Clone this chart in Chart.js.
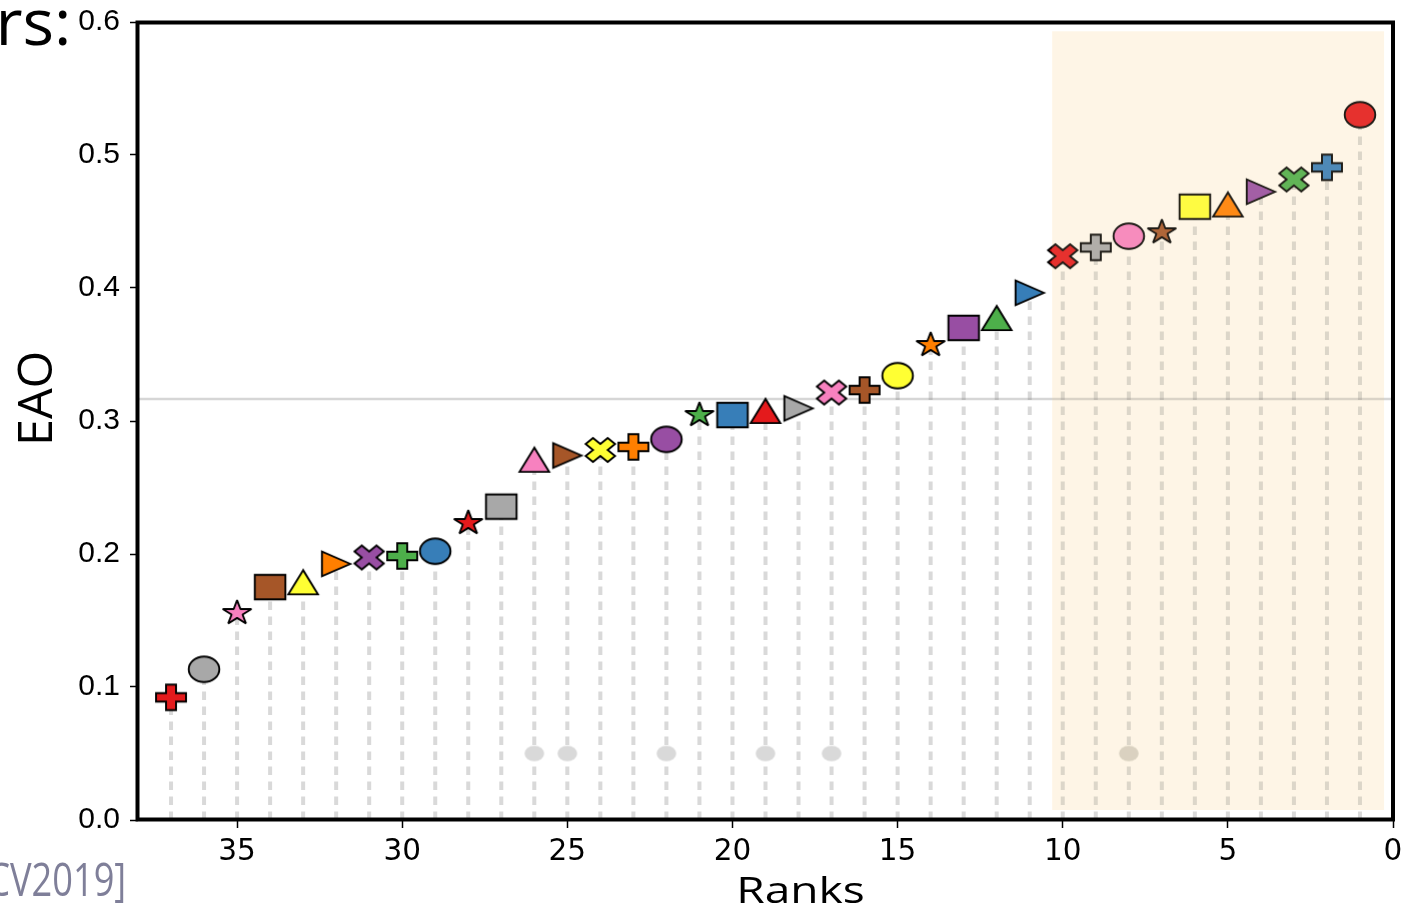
<!DOCTYPE html>
<html><head><meta charset="utf-8">
<script src="https://cdn.jsdelivr.net/npm/chart.js@4.4.1/dist/chart.umd.min.js"></script>
<style>html,body{margin:0;padding:0;background:#fff;overflow:hidden}#wrap{position:relative;width:1403px;height:906px}</style>
</head><body><div id="wrap"><canvas id="c"></canvas></div>
<script>
// ---- data ----
const ranks = [37,36,35,34,33,32,31,30,29,28,27,26,25,24,23,22,21,20,19,18,17,16,15,14,13,12,11,10,9,8,7,6,5,4,3,2,1];
const eaoValues = [0.0922,0.1133,0.1556,0.1751,0.1788,0.1926,0.1974,0.1985,0.2021,0.2233,0.2356,0.2709,0.2741,0.2782,0.2805,0.2862,0.3045,0.3045,0.3076,0.3095,0.3214,0.3233,0.3341,0.3571,0.3700,0.3774,0.3964,0.4239,0.4305,0.4390,0.4419,0.4611,0.4628,0.4724,0.4816,0.4907,0.5303];
const thresholdEAO = 0.3165;
const dotRanks = [26,25,22,19,17,8];
const dotValues = [0.05,0.05,0.05,0.05,0.05,0.05];
const highlightRanks = [10.32, 0.27];
const highlightEAO = [0.0075, 0.593];
const xTickValues = [0,5,10,15,20,25,30,35];
const yTickValues = [0,0.1,0.2,0.3,0.4,0.5,0.6];
const xTitle = 'Ranks';
const yTitle = 'EAO';

// ---- styles ----
const RED='#e41a1c',GRAY='#a8a8a8',PINK='#f781bf',BROWN='#a65628',YEL='#ffff33',ORG='#ff7f00',PUR='#984ea3',GRN='#4daf4a',BLU='#377eb8';
const markerColors = [RED,GRAY,PINK,BROWN,YEL,ORG,PUR,GRN,BLU, RED,GRAY,PINK,BROWN,YEL,ORG,PUR,GRN,BLU, RED,GRAY,PINK,BROWN,YEL,ORG,PUR,GRN,BLU, RED,GRAY,PINK,BROWN,YEL,ORG,PUR,GRN,BLU, RED];
const markerShapes = ['P','o','*','s','^','>','X', 'P','o','*','s','^','>','X', 'P','o','*','s','^','>','X', 'P','o','*','s','^','>','X', 'P','o','*','s','^','>','X', 'P','o'];
const dotColors = ['#d9d9d9','#d9d9d9','#d9d9d9','#d9d9d9','#d9d9d9','#d6d0c2'];

const shapeSize = {o:[15.3,12.8], s:[15.3,12.3], '^':[14.8,12.1], '>':[14.2,12.3], X:[14.7,12.1], P:[15.0,12.8], '*':[15.1,12.9]};

function tracePath(ctx, shape, rx, ry){
  ctx.beginPath();
  const poly = pts => { pts.forEach(([a,b],i)=>{ if(i) ctx.lineTo(a*rx,-b*ry); else ctx.moveTo(a*rx,-b*ry); }); ctx.closePath(); };
  if (shape==='o') { ctx.ellipse(0,0,rx,ry,0,0,Math.PI*2); }
  else if (shape==='s') poly([[-1,-1],[1,-1],[1,1],[-1,1]]);
  else if (shape==='^') poly([[0,1],[-1,-1],[1,-1]]);
  else if (shape==='>') poly([[1,0],[-1,1],[-1,-1]]);
  else if (shape==='P') poly([[-1,-3],[1,-3],[1,-1],[3,-1],[3,1],[1,1],[1,3],[-1,3],[-1,1],[-3,1],[-3,-1],[-1,-1]].map(([a,b])=>[a/3,b/3]));
  else if (shape==='X') poly([[-1,-2],[0,-1],[1,-2],[2,-1],[1,0],[2,1],[1,2],[0,1],[-1,2],[-2,1],[-1,0],[-2,-1]].map(([a,b])=>[a/2,b/2]));
  else if (shape==='*') {
    const pts=[]; for(let k=0;k<10;k++){ const ang=Math.PI/2+k*Math.PI/5; const r=k%2?0.381966:1; pts.push([r*Math.cos(ang), r*Math.sin(ang)]); }
    poly(pts);
  }
}
function makeMarker(shape, color){
  const c=document.createElement('canvas'); c.width=40; c.height=36;
  const ctx=c.getContext('2d'); ctx.translate(20,18);
  const [rx,ry]=shapeSize[shape];
  tracePath(ctx, shape, rx, ry);
  ctx.fillStyle=color; ctx.fill();
  ctx.lineWidth=1.9; ctx.strokeStyle='#000'; ctx.lineJoin = shape==='*' ? 'bevel' : (shape==='o'?'round':'miter'); ctx.miterLimit=10;
  ctx.stroke();
  return c;
}
function makeDot(color){
  const c=document.createElement('canvas'); c.width=24; c.height=20;
  const ctx=c.getContext('2d'); ctx.fillStyle=color; ctx.beginPath(); ctx.ellipse(12,10,9.8,7.8,0,0,Math.PI*2); ctx.fill();
  return c;
}
const markerImgs = markerShapes.map((s,i)=>makeMarker(s, markerColors[i]));
const dotImgs = dotColors.map(makeDot);

const stemData = [];
ranks.forEach((r,i)=>{ stemData.push({x:r,y:0}); stemData.push({x:r,y:eaoValues[i]}); stemData.push({x:r,y:null}); });

function fitText(ctx, text, font, box, color, rotate){
  ctx.save();
  ctx.font=font; ctx.fillStyle=color; ctx.textAlign='left'; ctx.textBaseline='alphabetic';
  const m=ctx.measureText(text);
  const w=m.actualBoundingBoxLeft+m.actualBoundingBoxRight, h=m.actualBoundingBoxAscent+m.actualBoundingBoxDescent;
  if (rotate){
    ctx.translate(box.l, box.b); ctx.rotate(-Math.PI/2);
    ctx.scale((box.b-box.t)/w, (box.r-box.l)/h);
  } else {
    ctx.translate(box.l, box.t);
    ctx.scale((box.r-box.l)/w, (box.b-box.t)/h);
  }
  ctx.fillText(text, m.actualBoundingBoxLeft, m.actualBoundingBoxAscent);
  ctx.restore();
}

const decor = {
  id:'decor',
  beforeDatasetsDraw(chart){
    const {ctx, scales:{x,y}} = chart;
    const x1=x.getPixelForValue(highlightRanks[0]), x2=x.getPixelForValue(highlightRanks[1]);
    const y1=y.getPixelForValue(highlightEAO[1]), y2=y.getPixelForValue(highlightEAO[0]);
    ctx.save(); ctx.fillStyle='#fff9ed'; ctx.fillRect(x1,y1,x2-x1,y2-y1); ctx.restore();
  },
  afterDatasetsDraw(chart){
    const {ctx, scales:{x,y}} = chart;
    const x1=x.getPixelForValue(highlightRanks[0]), x2=x.getPixelForValue(highlightRanks[1]);
    const y1=y.getPixelForValue(highlightEAO[1]), y2=y.getPixelForValue(highlightEAO[0]);
    ctx.save(); ctx.fillStyle='rgba(245,222,179,0.12)'; ctx.fillRect(x1,y1,x2-x1,y2-y1); ctx.restore();
  },
  afterDraw(chart){
    const {ctx, chartArea:a} = chart;
    ctx.save(); ctx.strokeStyle='#000'; ctx.lineWidth=4;
    ctx.strokeRect(a.left-0.5, a.top+0.5, a.right-a.left+0.5, a.bottom-a.top-1);
    ctx.restore();
    fitText(ctx, yTitle, '48px "Open Sans"', {l:18,r:52,t:353,b:442}, '#000', true);
    fitText(ctx, xTitle, '48px "Open Sans"', {l:740,r:863,t:875.5,b:903.3}, '#000', false);
    fitText(ctx, 'rs:', '72px "Open Sans"', {l:1,r:67,t:9.5,b:45.5}, '#000', false);
    // bottom-left citation fragment
    ctx.save();
    ctx.font='45px "Open Sans"'; ctx.fillStyle='#7f7f99'; ctx.textBaseline='alphabetic'; ctx.textAlign='left';
    const full='[ICCV2019]';
    const vis=ctx.measureText('V2019]'); const visW=vis.actualBoundingBoxLeft+vis.actualBoundingBoxRight;
    const sx=114/visW; const pre=ctx.measureText('[ICC').width;
    ctx.translate(10,895.5); ctx.scale(sx,1);
    ctx.fillText(full, -pre, 0);
    ctx.restore();
  }
};

new Chart(document.getElementById('c'), {
  type:'scatter',
  data:{ datasets:[
    { label:'markers', data: ranks.map((r,i)=>({x:r,y:eaoValues[i]})), pointStyle: markerImgs, pointRadius:12, showLine:false, order:0, clip:false },
    { label:'dots', data: dotRanks.map((r,i)=>({x:r,y:dotValues[i]})), pointStyle: dotImgs, pointRadius:8, showLine:false, order:1 },
    { label:'threshold', data:[{x:38,y:thresholdEAO},{x:0,y:thresholdEAO}], showLine:true, borderColor:'rgba(128,128,128,0.32)', borderWidth:2.5, pointRadius:0, order:2 },
    { label:'stems', data: stemData, showLine:true, spanGaps:false, borderColor:'rgba(128,128,128,0.3)', borderWidth:4, borderDash:[8.5,6.5], borderCapStyle:'butt', pointRadius:0, order:3 }
  ]},
  options:{
    responsive:true, maintainAspectRatio:false, animation:false, events:[],
    layout:{ autoPadding:false, padding:{ top:22, right:10, left:0, bottom:0 } },
    plugins:{ legend:{display:false}, tooltip:{enabled:false} },
    scales:{
      x:{ type:'linear', reverse:true, min:0, max:38,
          afterBuildTicks: s => { s.ticks = xTickValues.map(v=>({value:v})); },
          afterFit: s => { s.height = 86; s.paddingLeft = 0; s.paddingRight = 0; s.paddingTop = 0; s.paddingBottom = 0; },
          border:{display:false},
          grid:{ drawOnChartArea:false, drawTicks:true, tickLength:8, tickWidth:1.5, tickColor:'#000' },
          ticks:{ color:'#000', font:{family:'"DejaVu Sans"', size:29.5}, padding:7, maxRotation:0, autoSkip:false, callback: v => String(v) } },
      y:{ type:'linear', min:0, max:0.6,
          afterBuildTicks: s => { s.ticks = yTickValues.map(v=>({value:v})); },
          afterFit: s => { s.width = 138; s.paddingLeft = 0; s.paddingRight = 0; s.paddingTop = 0; s.paddingBottom = 0; },
          border:{display:false},
          grid:{ drawOnChartArea:false, drawTicks:true, tickLength:8, tickWidth:1.5, tickColor:'#000' },
          ticks:{ color:'#000', font:{family:'"Liberation Sans"', size:30}, padding:10, callback: v => Number(v).toFixed(1) } }
    }
  },
  plugins:[decor]
});
</script></body></html>
